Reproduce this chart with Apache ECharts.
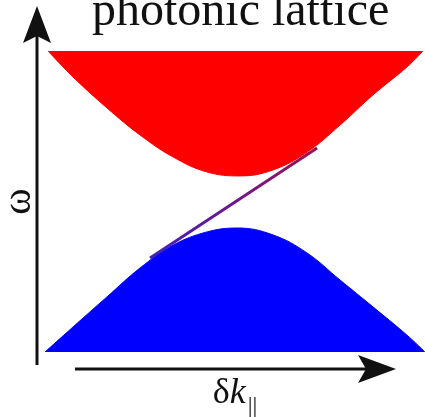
<!DOCTYPE html>
<html>
<head>
<meta charset="utf-8">
<script src="https://cdn.jsdelivr.net/npm/echarts/dist/echarts.min.js"></script>
<style>
  html, body { margin: 0; padding: 0; background: #fff; }
  #chart { width: 425px; height: 417px; }
</style>
</head>
<body>
<div id="chart"></div>
<script>
// Bulk bands of the photonic lattice: lower band (top edge) and upper band (bottom edge)
const lowerBandK = [-1.0, -0.853, -0.674, -0.5, -0.326, -0.147, 0.011, 0.2, 0.379, 0.553, 0.726, 0.905, 1.0];
const lowerBandTop = [0, 0.083, 0.183, 0.279, 0.355, 0.399, 0.412, 0.389, 0.329, 0.239, 0.150, 0.056, 0];
const upperBandK = [-0.984, -0.853, -0.674, -0.5, -0.326, -0.147, 0.026, 0.2, 0.379, 0.553, 0.726, 0.905, 0.989];
const upperBandBottom = [1.0, 0.914, 0.811, 0.721, 0.648, 0.598, 0.585, 0.605, 0.664, 0.754, 0.854, 0.947, 1.0];
// Edge state crossing the gap
const edgeK = [-0.447, 0.432];
const edgeOmega = [0.312, 0.678];

const pairs = (xs, ys) => xs.map((x, i) => [x, ys[i]]);

const chart = echarts.init(document.getElementById('chart'), null, { renderer: 'canvas' });

chart.setOption({
  animation: false,
  backgroundColor: '#ffffff',
  title: {
    text: 'photonic lattice',
    left: 92,
    top: -12,
    padding: 0,
    textStyle: {
      fontFamily: 'Liberation Serif',
      fontWeight: 'normal',
      fontSize: 48,
      color: '#111'
    }
  },
  grid: { left: 45, right: 0, top: 51, bottom: 65, outerBoundsMode: 'none', containLabel: false },
  xAxis: {
    type: 'value', min: -1, max: 1,
    axisLine: { show: false }, axisTick: { show: false },
    axisLabel: { show: false }, splitLine: { show: false },
    name: '{d|δ}{k|k}{s|||}',
    nameLocation: 'middle',
    nameGap: 17,
    nameTextStyle: {
      rich: {
        d: { fontFamily: 'Liberation Serif', fontSize: 36, color: '#111' },
        k: { fontFamily: 'Liberation Serif', fontStyle: 'italic', fontSize: 36, color: '#111' },
        s: { fontFamily: 'Liberation Serif', fontSize: 24, color: '#111', padding: [26, 0, 0, 2] }
      }
    }
  },
  yAxis: {
    type: 'value', min: 0, max: 1,
    axisLine: { show: false }, axisTick: { show: false },
    axisLabel: { show: false }, splitLine: { show: false },
    name: 'ω',
    nameLocation: 'middle',
    nameRotate: 90,
    nameGap: 6,
    nameTextStyle: { fontFamily: 'Liberation Serif', fontSize: 40, color: '#111' }
  },
  series: [
    {
      type: 'line',
      data: pairs(upperBandK, upperBandBottom),
      smooth: 0.4,
      symbol: 'none',
      lineStyle: { color: '#ff0000', width: 1 },
      areaStyle: { color: '#ff0000', opacity: 1, origin: 'end' },
      z: 2
    },
    {
      type: 'line',
      data: pairs(lowerBandK, lowerBandTop),
      smooth: 0.4,
      symbol: 'none',
      lineStyle: { color: '#0000ff', width: 1 },
      areaStyle: { color: '#0000ff', opacity: 1, origin: 'start' },
      z: 2
    },
    {
      type: 'line',
      data: pairs(edgeK, edgeOmega),
      symbol: 'none',
      lineStyle: {
        width: 3,
        color: {
          type: 'linear', x: 0, y: 1, x2: 1, y2: 0,
          colorStops: [
            { offset: 0, color: '#3f22b8' },
            { offset: 0.5, color: '#6c1890' },
            { offset: 1, color: '#a0104c' }
          ]
        }
      },
      z: 3
    }
  ],
  graphic: [
    // vertical axis arrow
    { type: 'line', shape: { x1: 37, y1: 365, x2: 37, y2: 34 }, style: { stroke: '#111', lineWidth: 3 } },
    { type: 'polygon', shape: { points: [[37, 6], [51, 43], [37, 36], [23, 43]] }, style: { fill: '#111' } },
    // horizontal axis arrow
    { type: 'line', shape: { x1: 75, y1: 369, x2: 368, y2: 369 }, style: { stroke: '#111', lineWidth: 3 } },
    { type: 'polygon', shape: { points: [[396, 369], [358, 355], [366, 369], [358, 383]] }, style: { fill: '#111' } }
  ]
});
</script>
</body>
</html>
